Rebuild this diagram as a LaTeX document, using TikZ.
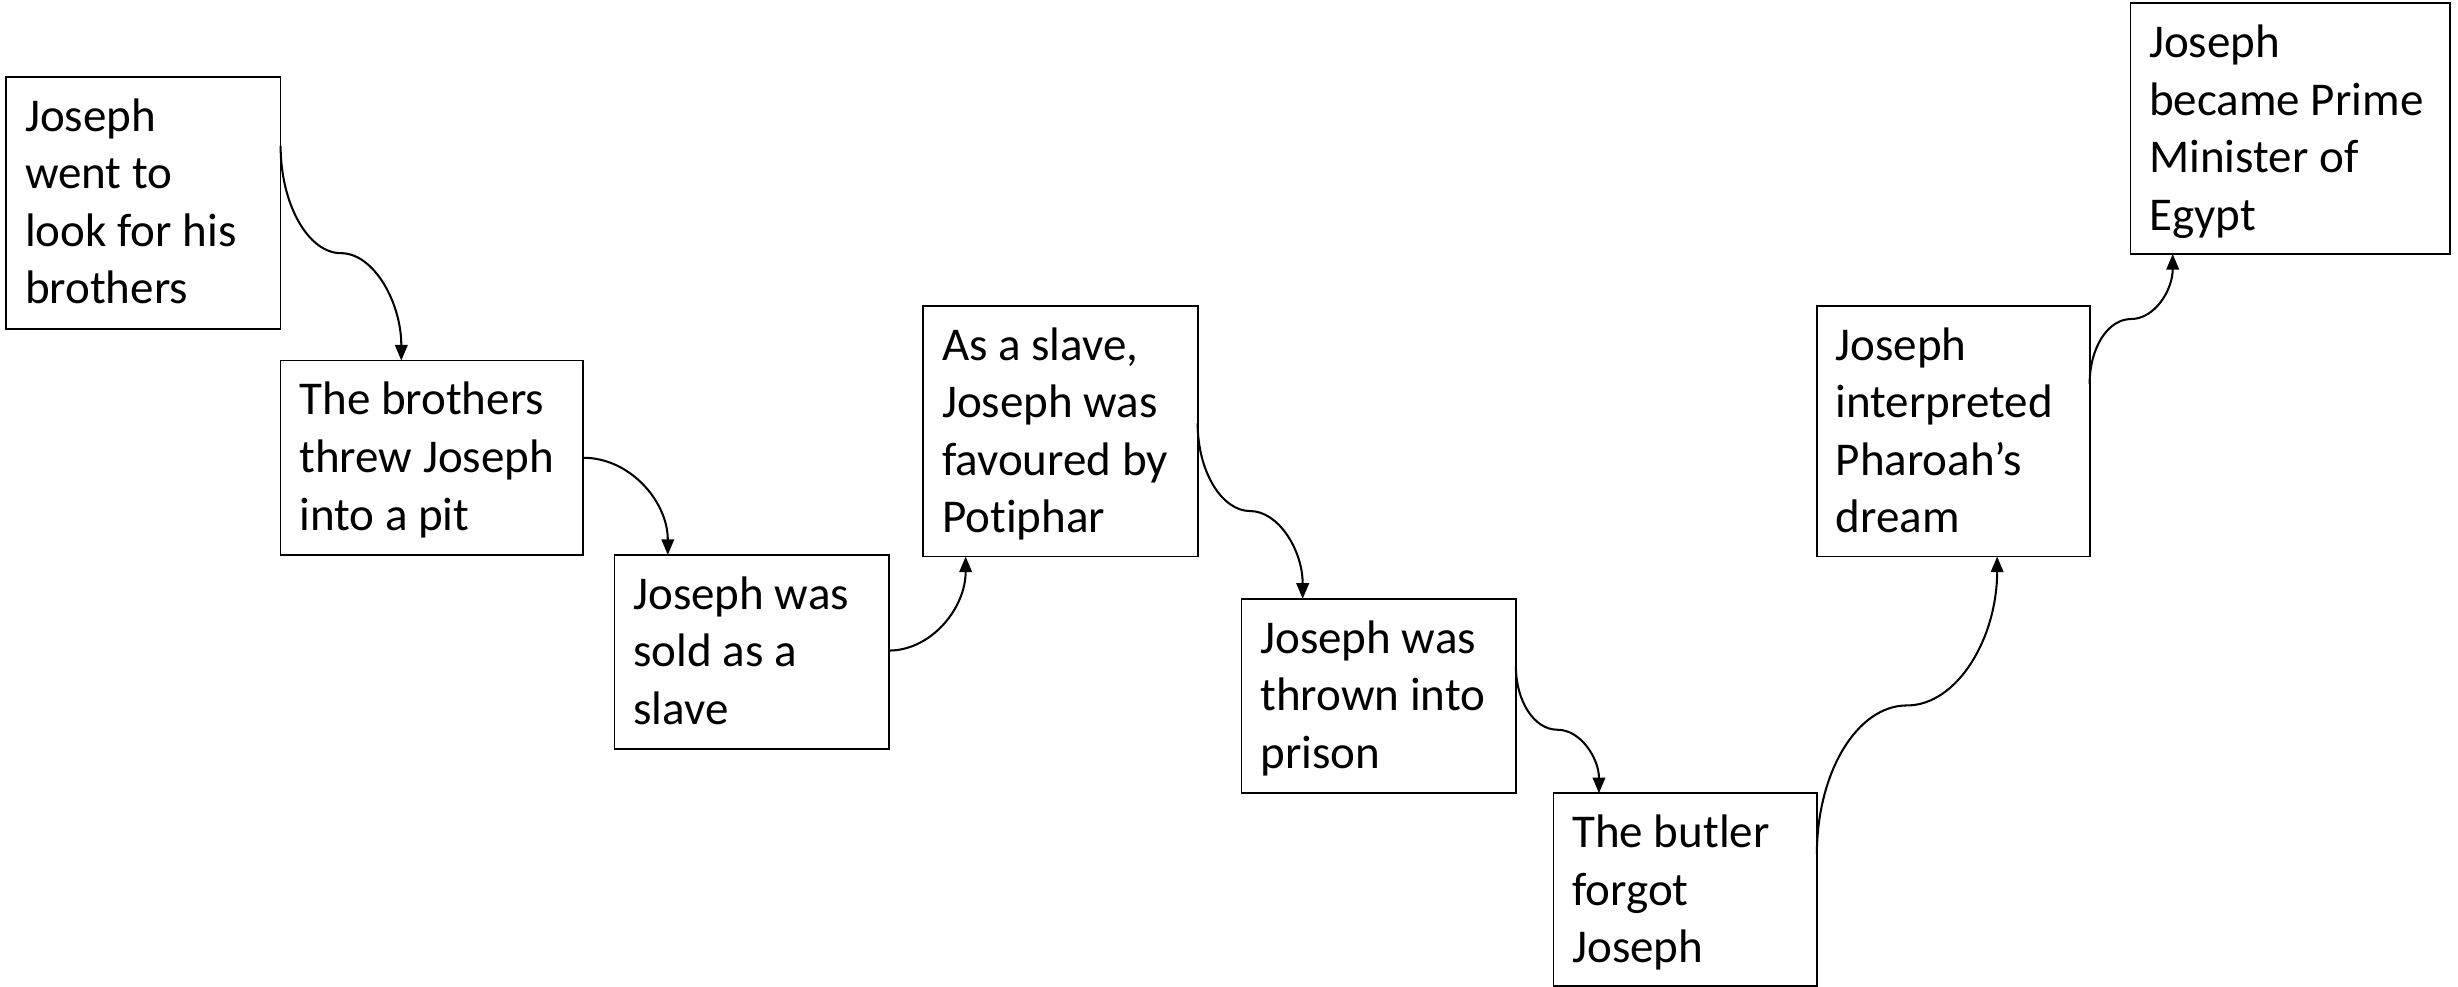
\documentclass[tikz,border=0pt]{standalone}
\usepackage{fontspec}
\setmainfont{Carlito}[RawFeature={-liga}]
\usetikzlibrary{arrows.meta,calc}
\newcommand\bxtext[3]{\parbox[c][#1][t]{#2}{\raggedright\strut #3}}
\tikzset{
  box/.style={draw, line width=1.1pt, inner xsep=12pt, inner ysep=9pt, outer sep=0pt,
    anchor=north west, font=\fontsize{30}{36.7}\selectfont},
  conn/.style={line width=1.3pt, -{Triangle[length=10pt,width=8pt]}}
}
\begin{document}
\begin{tikzpicture}[x=1pt,y=-1pt]
\useasboundingbox (0,0) rectangle (1568,629.6);
\node[box] (b1) at (4,49)    {\bxtext{143pt}{151pt}{Joseph\\went to\\look for his\\brothers}};
\node[box] (b2) at (179,230) {\bxtext{106pt}{169pt}{The brothers\\threw Joseph\\into a pit}};
\node[box] (b3) at (392,354) {\bxtext{106pt}{151pt}{Joseph was\\sold as a\\slave}};
\node[box] (b4) at (589,195) {\bxtext{142pt}{151pt}{As a slave,\\Joseph was\\favoured by\\Potiphar}};
\node[box] (b5) at (792,382) {\bxtext{106pt}{151pt}{Joseph was\\thrown into\\prison}};
\node[box] (b6) at (991,506) {\bxtext{105pt}{144pt}{The butler\\forgot\\Joseph}};
\node[box] (b7) at (1159,195){\bxtext{142pt}{150pt}{Joseph\\interpreted\\Pharoah’s\\dream}};
\node[box] (b8) at (1359,2)  {\bxtext{142pt}{180pt}{Joseph\\became Prime\\Minister of\\Egypt}};

% connector end points
\coordinate (s1) at ([yshift=-44pt]b1.north east);
\coordinate (e1) at ([xshift=77pt]b2.north west);
\coordinate (m1) at ($(s1)!0.5!(e1)$);
\coordinate (s2) at ([yshift=-62pt]b2.north east);
\coordinate (e2) at ([xshift=34pt]b3.north west);
\coordinate (s3) at ([yshift=-61pt]b3.north east);
\coordinate (e3) at ([xshift=27pt]b4.south west);
\coordinate (s4) at ([yshift=-75pt]b4.north east);
\coordinate (e4) at ([xshift=39pt]b5.north west);
\coordinate (m4) at ($(s4)!0.5!(e4)$);
\coordinate (s5) at ([yshift=-43pt]b5.north east);
\coordinate (e5) at ([xshift=29pt]b6.north west);
\coordinate (m5) at ($(s5)!0.5!(e5)$);
\coordinate (s6) at ([yshift=-39pt]b6.north east);
\coordinate (e6) at ([xshift=115pt]b7.south west);
\coordinate (m6) at ($(s6)!0.5!(e6)$);
\coordinate (s7) at ([yshift=-50pt]b7.north east);
\coordinate (e7) at ([xshift=27pt]b8.south west);
\coordinate (m7) at ($(s7)!0.5!(e7)$);

\draw[conn] (s1) .. controls +(0,37) and +(-21,0) .. (m1) .. controls +(21,0) and +(0,-37) .. (e1);
\draw[conn] (s2) .. controls +(30,0) and +(0,-34) .. (e2);
\draw[conn] (s3) .. controls +(27,0) and +(0,33) .. (e3);
\draw[conn] (s4) .. controls +(0,31) and +(-18,0) .. (m4) .. controls +(18,0) and +(0,-31) .. (e4);
\draw[conn] (s5) .. controls +(0,22) and +(-15,0) .. (m5) .. controls +(15,0) and +(0,-22) .. (e5);
\draw[conn] (s6) .. controls +(0,-52) and +(-32,0) .. (m6) .. controls +(32,0) and +(0,52) .. (e6);
\draw[conn] (s7) .. controls +(0,-23) and +(-15,0) .. (m7) .. controls +(15,0) and +(0,23) .. (e7);
\end{tikzpicture}
\end{document}
